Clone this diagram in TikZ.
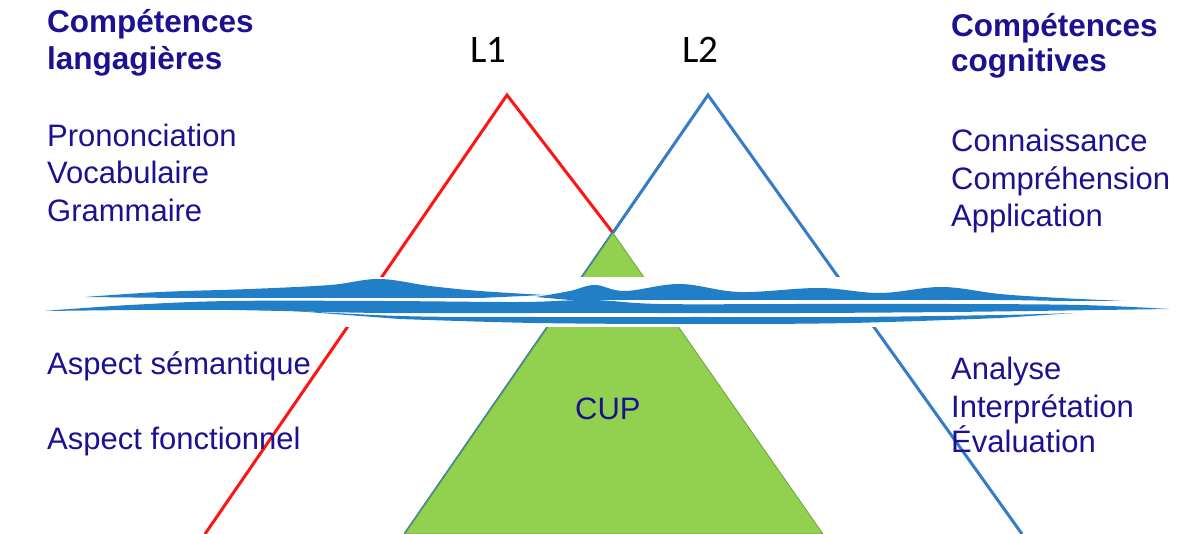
\documentclass[tikz,border=0pt]{standalone}
\usepackage{fontspec}
\setmainfont{Liberation Sans}
\newfontfamily\calibri{Carlito}
\definecolor{txt}{RGB}{28,18,145}
\definecolor{lred}{RGB}{255,20,20}
\definecolor{lblue}{RGB}{52,124,198}
\definecolor{wave}{RGB}{33,127,200}
\definecolor{cupgreen}{RGB}{146,208,80}
\definecolor{cupedge}{RGB}{110,160,60}
\begin{document}
\begin{tikzpicture}[x=1pt,y=-1pt,
  lbl/.style={anchor=base west,inner sep=0pt,text=txt,font=\fontsize{31}{36}\selectfont},
  headtxt/.style={anchor=base west,inner sep=0pt,text=txt,font=\fontsize{31.5}{36}\selectfont\bfseries},
  langtxt/.style={anchor=base west,inner sep=0pt,text=black,font=\calibri\fontsize{39}{45}\selectfont},
  triline/.style={line width=3pt,line join=miter},
  ribbon/.style={fill=wave}]
\useasboundingbox (0,0) rectangle (1184,534);
\fill[white] (0,0) rectangle (1184,534);

% key points
\coordinate (redtop) at (507,95);
\coordinate (redfoot) at (205,534);
\coordinate (cuptop) at (613,233);
\coordinate (bluetop) at (708,95);
\coordinate (bluefootL) at (405,534);
\coordinate (bluefootR) at (1022,534);
\coordinate (cupfootR) at (823,534);

% triangles
\draw[triline,lred] (redfoot) -- (redtop) -- (cuptop);
\draw[triline,lblue] (bluefootL) -- (bluetop) -- (bluefootR);
\filldraw[fill=cupgreen,draw=cupedge,line width=0.8pt] (cuptop) -- (cupfootR) -- (bluefootL) -- cycle;

% white water band
\fill[white] (0,277) rectangle (1184,327);

% wave ribbons
\fill[ribbon] plot[smooth,tension=0.6] coordinates {(85,297) (160,292) (250,289) (330,285) (379,279) (430,286) (480,291) (545,295)}
  -- plot[smooth,tension=0.6] coordinates {(480,298) (379,298) (280,298) (180,298)} -- cycle;
\fill[ribbon] plot[smooth,tension=0.6] coordinates {(44,311) (130,305) (230,301) (383,301) (520,302) (592,300) (660,304) (800,304) (950,304) (1080,305) (1169,309)}
  -- plot[smooth,tension=0.6] coordinates {(1100,310) (950,312) (800,313) (650,313) (536,313) (383,313) (230,310) (130,310)} -- cycle;
\fill[ribbon] plot[smooth,tension=0.6] coordinates {(268,309) (400,316) (536,317) (700,317) (850,317) (1000,315) (1075,313)}
  -- plot[smooth,tension=0.6] coordinates {(1000,318) (850,323) (700,324) (536,323) (400,319)} -- cycle;
\fill[ribbon] plot[smooth,tension=0.6] coordinates {(536,297) (570,291) (595,285) (625,291) (680,284) (740,292) (819,288) (880,293) (942,287) (1000,294) (1060,298) (1125,301)}
  -- plot[smooth,tension=0.6] coordinates {(1060,301) (1000,300) (900,300) (800,300) (700,300) (620,300) (570,300)} -- cycle;

% labels
\node[langtxt] (l1) at (470,63) {L1};
\node[langtxt] (l2) at (682,63) {L2};

\node[headtxt] (hla) at (47,33) {Compétences};
\node[headtxt] (hlb) at (47,70) {langagières};
\node[headtxt] (hca) at (951,37) {Compétences};
\node[headtxt] (hcb) at (951,72) {cognitives};

\node[lbl] (pron) at (47,147) {Prononciation};
\node[lbl] (voca) at (47,184) {Vocabulaire};
\node[lbl] (gram) at (47,222) {Grammaire};
\node[lbl] (asem) at (47,375) {Aspect sémantique};
\node[lbl] (afon) at (47,450) {Aspect fonctionnel};

\node[lbl] (conn) at (951,152) {Connaissance};
\node[lbl] (comp) at (951,190) {Compréhension};
\node[lbl] (appl) at (951,227) {Application};
\node[lbl] (anal) at (951,380) {Analyse};
\node[lbl] (inte) at (951,418) {Interprétation};
\node[lbl] (eval) at (951,453) {Évaluation};

\node[lbl] (cup) at (575,420) {CUP};
\end{tikzpicture}
\end{document}
